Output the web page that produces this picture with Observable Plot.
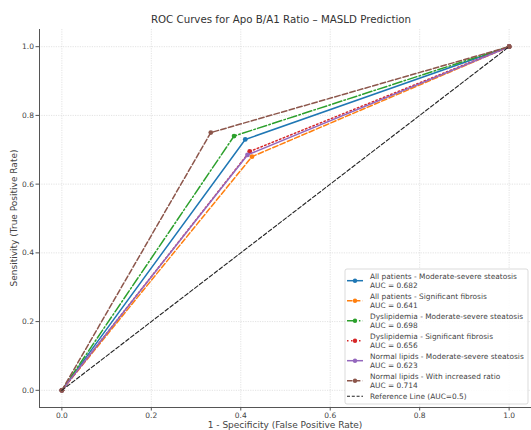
<!DOCTYPE html>
<html>
<head>
<meta charset="utf-8">
<script src="https://cdn.jsdelivr.net/npm/d3@7"></script>
<script src="https://cdn.jsdelivr.net/npm/@observablehq/plot@0.6"></script>
<style>
  body { margin: 0; background: #fff; font-family: "DejaVu Sans", sans-serif; }
  #chart { width: 531px; height: 430px; }
</style>
</head>
<body>
<div id="chart"></div>
<script>
// ROC curves: each subgroup has a single cut-off point between (0,0) and (1,1)
const seriesNames = [
  "All patients - Moderate-severe steatosis",
  "All patients - Significant fibrosis",
  "Dyslipidemia - Moderate-severe steatosis",
  "Dyslipidemia - Significant fibrosis",
  "Normal lipids - Moderate-severe steatosis",
  "Normal lipids - With increased ratio"
];
const aucValues = [0.682, 0.641, 0.698, 0.656, 0.623, 0.714];
const cutFpr = [0.41, 0.425, 0.385, 0.42, 0.415, 0.333];
const cutTpr = [0.73, 0.68, 0.74, 0.695, 0.685, 0.75];
const referenceLabel = "Reference Line (AUC=0.5)";
const axisTicks = [0, 0.2, 0.4, 0.6, 0.8, 1.0];
const axisDomain = [-0.05, 1.05];

// line styles (matplotlib tab10 colours)
const colors = ["#1f77b4", "#ff7f0e", "#2ca02c", "#d62728", "#9467bd", "#8c564b"];
const dashes = ["none", "5.5,2.4", "9.5,2.4,1.5,2.4", "1.5,2.5", "none", "5.5,2.4"];
const refDash = "4,2.2";

const curves = seriesNames.map((name, i) => [
  {series: name, x: 0, y: 0},
  {series: name, x: cutFpr[i], y: cutTpr[i]},
  {series: name, x: 1, y: 1}
]);
const refLine = [{x: 0, y: 0}, {x: 1, y: 1}];

const W = 531, H = 430;
const fmt = d3.format(".1f");

const marks = [
  Plot.gridX(axisTicks, {stroke: "#d0d0d0", strokeOpacity: 1, strokeWidth: 0.6, strokeDasharray: "1.2,1.2"}),
  Plot.gridY(axisTicks, {stroke: "#d0d0d0", strokeOpacity: 1, strokeWidth: 0.6, strokeDasharray: "1.2,1.2"}),
  Plot.ruleX([axisDomain[0]], {stroke: "#555", strokeWidth: 1}),
  Plot.ruleY([axisDomain[0]], {stroke: "#555", strokeWidth: 1}),
  Plot.axisX(axisTicks, {tickFormat: fmt, tickSize: 3.5, tickPadding: 1.5, fontSize: 7.5, stroke: "#555", fill: "#444", label: null}),
  Plot.axisY(axisTicks, {tickFormat: fmt, tickSize: 3.5, tickPadding: 2, fontSize: 7.5, stroke: "#555", fill: "#444", label: null})
];
curves.forEach((data, i) => {
  marks.push(Plot.line(data, {x: "x", y: "y", stroke: colors[i], strokeWidth: 1.5, strokeDasharray: dashes[i]}));
  marks.push(Plot.dot(data, {x: "x", y: "y", r: 2.4, fill: colors[i], stroke: "none"}));
});
marks.push(Plot.line(refLine, {x: "x", y: "y", stroke: "#222", strokeWidth: 1.1, strokeDasharray: refDash}));

const plot = Plot.plot({
  width: W,
  height: H,
  marginTop: 29,
  marginBottom: 23,
  marginLeft: 39,
  marginRight: 0,
  x: {domain: axisDomain, label: null},
  y: {domain: axisDomain, label: null},
  style: {fontFamily: "DejaVu Sans, sans-serif", background: "#fff", color: "#444"},
  marks
});
document.getElementById("chart").appendChild(plot);

const svg = d3.select(plot);
svg.append("text")
  .attr("x", 281).attr("y", 23)
  .attr("text-anchor", "middle")
  .attr("font-size", 10.25).attr("fill", "#333")
  .text("ROC Curves for Apo B/A1 Ratio \u2013 MASLD Prediction");
svg.append("text")
  .attr("x", 285).attr("y", 428)
  .attr("text-anchor", "middle")
  .attr("font-size", 9).attr("fill", "#444")
  .text("1 - Specificity (False Positive Rate)");
svg.append("text")
  .attr("transform", "translate(17,218) rotate(-90)")
  .attr("text-anchor", "middle")
  .attr("font-size", 9).attr("fill", "#444")
  .text("Sensitivity (True Positive Rate)");

// legend
const lg = svg.append("g").attr("transform", "translate(345,269)");
lg.append("rect").attr("width", 183).attr("height", 135).attr("rx", 2)
  .attr("fill", "#fff").attr("fill-opacity", 0.85).attr("stroke", "#ccc").attr("stroke-width", 0.7);
const rowH = 20;
seriesNames.forEach((name, i) => {
  const cy = 11.7 + i * rowH;
  lg.append("line").attr("x1", 2).attr("x2", 18).attr("y1", cy).attr("y2", cy)
    .attr("stroke", colors[i]).attr("stroke-width", 1.5).attr("stroke-dasharray", dashes[i]);
  lg.append("circle").attr("cx", 10).attr("cy", cy).attr("r", 2.2).attr("fill", colors[i]);
  const t = lg.append("text").attr("font-size", 7.4).attr("fill", "#444").attr("text-anchor", "start");
  t.append("tspan").attr("x", 25).attr("y", cy - 1.8).text(name);
  t.append("tspan").attr("x", 25).attr("y", cy + 7.2).text(`AUC = ${aucValues[i].toFixed(3)}`);
});
const ry = 127.3;
lg.append("line").attr("x1", 2).attr("x2", 18).attr("y1", ry).attr("y2", ry)
  .attr("stroke", "#222").attr("stroke-width", 1.1).attr("stroke-dasharray", "3,1.8");
lg.append("text").attr("x", 25).attr("y", ry + 2.7).attr("font-size", 7.4).attr("fill", "#444")
  .attr("text-anchor", "start").text(referenceLabel);
</script>
</body>
</html>
